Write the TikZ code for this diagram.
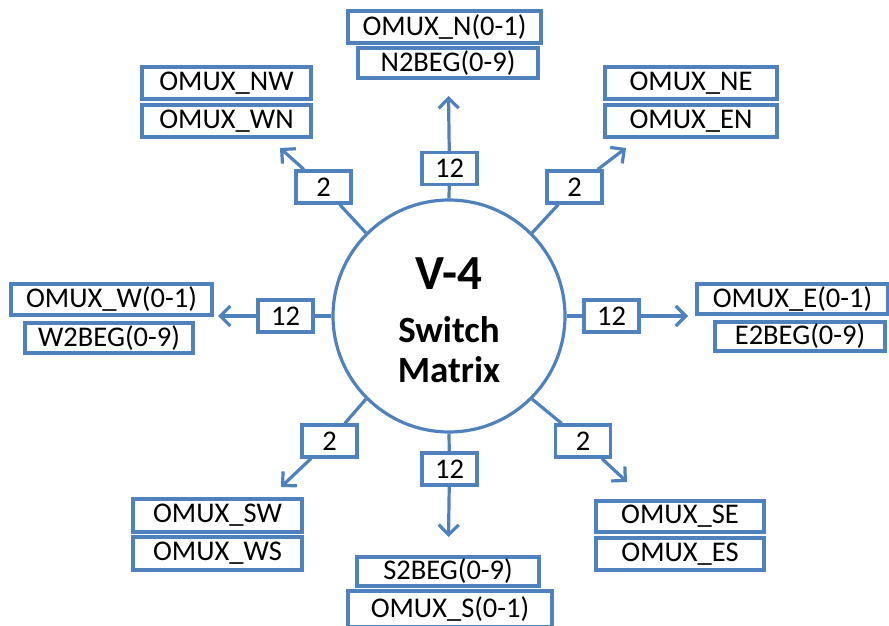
\documentclass[tikz,border=0pt]{standalone}
\usepackage{fontspec}
\setmainfont{Carlito}
\usetikzlibrary{arrows.meta}
\definecolor{smBlue}{HTML}{4F81BD}

\begin{document}
\begin{tikzpicture}[
        x=1pt, y=1pt,
        port/.style={draw=smBlue, rectangle, line width=3.2pt, inner sep=0pt, minimum height=31pt, font=\fontsize{28.5}{30}\selectfont}, % output box
        count/.style={port, minimum width=55pt, minimum height=32pt}, % wire count box
        link/.style={smBlue, line width=3.2pt},
        arrow style/.style={link, -{Straight Barb[length=10pt,width=20pt]}}
    ]
    \useasboundingbox (0,0) rectangle (889,625);
    \clip (0,0) rectangle (889,625);

    % switch matrix
    \node[draw=smBlue, line width=3.2pt, circle, minimum size=232pt, inner sep=0pt] (sm) at (449,309) {};
    \node[anchor=base, font=\bfseries\fontsize{49}{50}\selectfont] (title) at (449,336) {V-4};
    \node[anchor=base, font=\bfseries\fontsize{37}{40}\selectfont] (line1) at (449,283) {Switch};
    \node[anchor=base, font=\bfseries\fontsize{37}{40}\selectfont] (line2) at (449,243) {Matrix};

    % wire counts
    \node[count] (cN) at (449.5,456.5) {12};
    \node[count] (cNW) at (323.5,438) {2};
    \node[count] (cNE) at (574.5,438) {2};
    \node[count] (cW) at (285.5,309) {12};
    \node[count] (cE) at (611.5,309) {12};
    \node[count] (cSW) at (329.5,184) {2};
    \node[count] (cS) at (449.5,156) {12};
    \node[count] (cSE) at (583,184) {2};

    % arrow ends
    \coordinate (tN) at (448.5,529);
    \coordinate (tNW) at (280,477);
    \coordinate (tNE) at (626,477);
    \coordinate (tW) at (218,309);
    \coordinate (tE) at (688,309);
    \coordinate (tSW) at (281,138);
    \coordinate (tS) at (448.5,88);
    \coordinate (tSE) at (627,143);

    % outputs
    \node[port, minimum width=193pt, minimum height=32pt] (N1) at (444.5,598) {OMUX\_N(0-1)};
    \node[port, minimum width=180pt, minimum height=30pt] (N2) at (448,562) {N2BEG(0-9)};
    \node[port, minimum width=169pt, minimum height=32pt] (NW1) at (226.5,542) {OMUX\_NW};
    \node[port, minimum width=169pt, minimum height=32pt] (NW2) at (226.5,504) {OMUX\_WN};
    \node[port, minimum width=172pt, minimum height=32pt] (NE1) at (691,542) {OMUX\_NE};
    \node[port, minimum width=172pt, minimum height=32pt] (NE2) at (691,504) {OMUX\_EN};
    \node[port, minimum width=201pt] (W1) at (111.5,325.5) {OMUX\_W(0-1)};
    \node[port, minimum width=168pt, minimum height=30pt] (W2) at (109,287) {W2BEG(0-9)};
    \node[port, minimum width=191pt, minimum height=30pt] (E1) at (792.5,326) {OMUX\_E(0-1)};
    \node[port, minimum width=170pt, minimum height=29pt] (E2) at (800,288.5) {E2BEG(0-9)};
    \node[port, minimum width=169pt, minimum height=33pt] (SW1) at (217.5,109.5) {OMUX\_SW};
    \node[port, minimum width=169pt, minimum height=33pt] (SW2) at (217.5,71.5) {OMUX\_WS};
    \node[port, minimum width=182pt, minimum height=29pt] (S1) at (448,53.5) {S2BEG(0-9)};
    \node[port, minimum width=204pt, minimum height=36pt] (S2) at (450,16) {OMUX\_S(0-1)};
    \node[port, minimum width=168pt] (SE1) at (680,108.5) {OMUX\_SE};
    \node[port, minimum width=168pt, minimum height=32pt] (SE2) at (680,71) {OMUX\_ES};

    % connectors
    \draw[link] (sm.north) -- (cN);
    \draw[link] (sm.135) -- (cNW);
    \draw[link] (sm.45) -- (cNE);
    \draw[link] (sm.west) -- (cW);
    \draw[link] (sm.east) -- (cE);
    \draw[link] (sm.225) -- (cSW);
    \draw[link] (sm.south) -- (cS);
    \draw[link] (sm.315) -- (cSE);

    \draw[arrow style] (cN) -- (tN);
    \draw[arrow style] (cNW) -- (tNW);
    \draw[arrow style] (cNE) -- (tNE);
    \draw[arrow style] (cW) -- (tW);
    \draw[arrow style] (cE) -- (tE);
    \draw[arrow style] (cSW) -- (tSW);
    \draw[arrow style] (cS) -- (tS);
    \draw[arrow style] (cSE) -- (tSE);
\end{tikzpicture}
\end{document}
